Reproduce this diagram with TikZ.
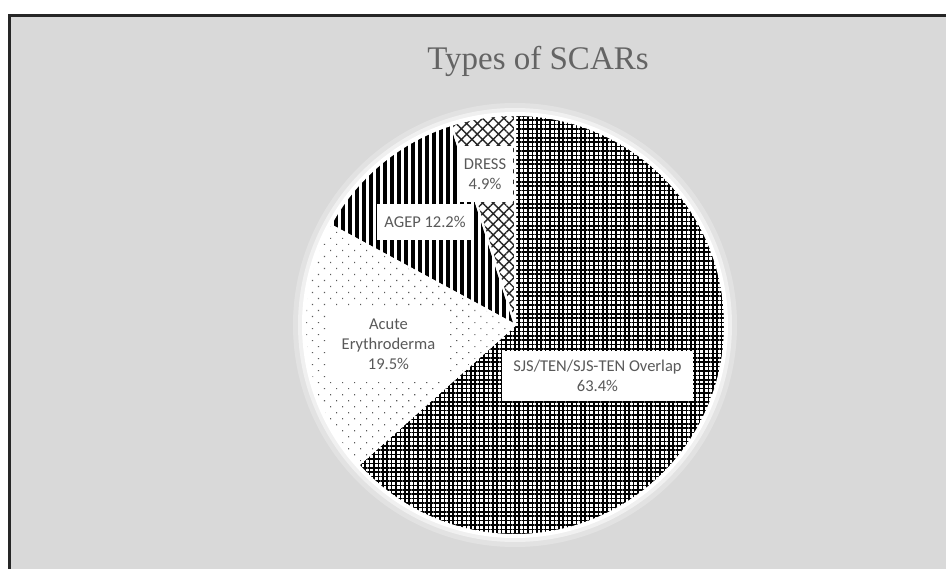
\documentclass[tikz,border=0pt]{standalone}
\usepackage{fontspec}
\setmainfont{Liberation Serif}
\newfontfamily\lblfont{Carlito}
\usetikzlibrary{patterns.meta}
\definecolor{bggray}{HTML}{D9D9D9}
\definecolor{txtgray}{HTML}{595959}
\definecolor{titlegray}{HTML}{646464}
\tikzset{
  lbl/.style={fill=white, text=txtgray, font=\lblfont\fontsize{16.5}{20}\selectfont, align=center, inner sep=0pt},
  slice/.style={draw=white, line width=2pt, line join=round},
}
\begin{document}
\begin{tikzpicture}[x=1pt,y=-1pt]
\useasboundingbox (0,0) rectangle (946,569);
\fill[white] (0,0) rectangle (946,569);
\draw[fill=bggray, line width=3pt, draw=black!85] (9.5,15.5) rectangle (960,590);
\coordinate (C) at (515,325);
% soft halo
\fill[white, opacity=0.25] (C) circle[radius=222];
\fill[white, opacity=0.5] (C) circle[radius=217];
\fill[white] (C) circle[radius=213];
% slices (local angle = -visual angle)
\fill[white] (C) circle[radius=210];
\fill[pattern={Hatch[distance=4.4pt, angle=0, line width=1.5pt]}, pattern color=black]
  (C) -- ++(-90:210) arc[start angle=-90, end angle=138.24, radius=210] -- cycle;
\fill[pattern={Dots[distance=8.5pt, angle=45, radius=0.8pt]}, pattern color=black!65]
  (C) -- ++(138.24:210) arc[start angle=138.24, end angle=208.44, radius=210] -- cycle;
\fill[pattern={Lines[distance=7pt, angle=90, line width=3.3pt]}, pattern color=black]
  (C) -- ++(208.44:210) arc[start angle=208.44, end angle=252.36, radius=210] -- cycle;
\fill[pattern={Hatch[distance=7.5pt, angle=45, line width=1.4pt]}, pattern color=black!85]
  (C) -- ++(252.36:210) arc[start angle=252.36, end angle=270, radius=210] -- cycle;
\draw[slice] (C) -- ++(-90:210) arc[start angle=-90, end angle=138.24, radius=210] -- cycle;
\draw[slice] (C) -- ++(138.24:210) arc[start angle=138.24, end angle=208.44, radius=210] -- cycle;
\draw[slice] (C) -- ++(208.44:210) arc[start angle=208.44, end angle=252.36, radius=210] -- cycle;
\draw[slice] (C) -- ++(252.36:210) arc[start angle=252.36, end angle=270, radius=210] -- cycle;
% title
\node[anchor=base, text=titlegray, font=\fontsize{33}{36}\selectfont] (title) at (538,70) {Types of SCARs};
% labels
\node[lbl, minimum width=191pt, minimum height=50pt] (sjs) at (597.5,376) {SJS/TEN/SJS-TEN Overlap\\63.4\%};
\node[lbl, minimum width=117pt, minimum height=74pt] (acute) at (388.5,344) {Acute\\Erythroderma\\19.5\%};
\node[lbl, minimum width=96pt, minimum height=36pt] (agep) at (425,222) {AGEP 12.2\%};
\node[lbl, minimum width=56pt, minimum height=56pt] (dress) at (485,174) {DRESS\\4.9\%};
\end{tikzpicture}
\end{document}
